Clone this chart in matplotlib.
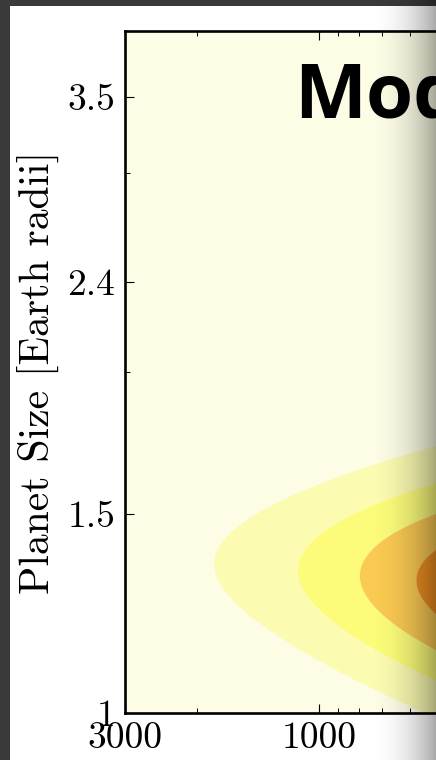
import numpy as np
import matplotlib
matplotlib.use("Agg")
import matplotlib.pyplot as plt
from matplotlib.patches import Rectangle
from matplotlib.ticker import FixedLocator, FixedFormatter, NullFormatter, LogLocator

plt.rcParams['axes.formatter.use_mathtext'] = True

# ---- model parameters (occurrence density in period / size) ----
P_PEAK = 205.0          # period of the density peak
R_PEAK = 1.27           # planet size at the peak [Earth radii]
SIG_LOGP = 0.50         # width in log10(period)
SIG_LNR_PEAK = 0.1925   # width in ln(size) at the peak period
SIG_LNR_SLOPE = 0.409   # fractional narrowing of the size width per dex of period
RIDGE_SLOPE = 0.0675    # d ln(size) / d log10(period) along the ridge

# ---- contour levels (fraction of peak) and band colours ----
levels = [0.0, 1/6, 2/6, 3/6, 4/6, 5/6, 1.0001]
band_colors = ['#fdfde6', '#fbfbb2', '#fcfc7a', '#fbca52', '#f0901f', '#c0640f']

# ---- axes ranges and ticks ----
period_range = (3000, 30)
size_range = (1.0, 4.0)
xticks = [3000, 1000, 300, 100, 30]
xtick_labels = ['3000', '1000', '300', '100', '30']
yticks = [1.0, 1.5, 2.4, 3.5]
ytick_labels = ['1', '1.5', '2.4', '3.5']
yminor = [2.0, 3.0]

title_text = 'Model'
ylabel_text = 'Planet Size [Earth radii]'

W, H = 436, 760
fig = plt.figure(figsize=(W / 100, H / 100), dpi=100, facecolor='#3a3a3a')

# white page inside the dark frame
fig.add_artist(Rectangle((10 / W, 0), 1, 1 - 6 / H, transform=fig.transFigure,
                         facecolor='white', edgecolor='none', zorder=-10))

px_per_dex = 407.3
ax_w = px_per_dex * np.log10(period_range[0] / period_range[1]) / W
ax = fig.add_axes([125 / W, 47 / H, ax_w, 682 / H])

# density on a log grid
logP = np.linspace(np.log10(period_range[1]), np.log10(period_range[0]), 700)
lnR = np.linspace(np.log(size_range[0]), np.log(size_range[1]), 700)
LP, LR = np.meshgrid(logP, lnR)
dlp = LP - np.log10(P_PEAK)
ridge = np.log(R_PEAK) + RIDGE_SLOPE * dlp
sig_r = SIG_LNR_PEAK * np.clip(1 - SIG_LNR_SLOPE * dlp, 0.05, None)
dens = np.exp(-dlp**2 / (2 * SIG_LOGP**2) - (LR - ridge)**2 / (2 * sig_r**2))

ax.contourf(10**LP, np.exp(LR), dens, levels=levels, colors=band_colors,
            antialiased=True)

ax.set_xscale('log')
ax.set_yscale('log')
ax.set_xlim(*period_range)
ax.set_ylim(*size_range)

ax.xaxis.set_major_locator(FixedLocator(xticks))
ax.xaxis.set_major_formatter(FixedFormatter(xtick_labels))
ax.xaxis.set_minor_locator(LogLocator(base=10, subs=np.arange(2, 10)))
ax.xaxis.set_minor_formatter(NullFormatter())
ax.yaxis.set_major_locator(FixedLocator(yticks))
ax.yaxis.set_major_formatter(FixedFormatter(ytick_labels))
ax.yaxis.set_minor_locator(FixedLocator(yminor))
ax.yaxis.set_minor_formatter(NullFormatter())
for lab in ax.get_xticklabels() + ax.get_yticklabels():
    lab.set_fontfamily('cmr10')
    lab.set_fontsize(27)

ax.tick_params(which='both', direction='in', top=True, right=True, color='black')
ax.tick_params(which='major', length=6.5, width=0.8)
ax.tick_params(which='minor', length=3.5, width=0.7)
ax.tick_params(axis='x', which='major', pad=6)
ax.tick_params(axis='y', which='major', pad=7)
for sp in ax.spines.values():
    sp.set_linewidth(1.9)

ax.set_ylabel(ylabel_text, fontfamily='cmr10', fontsize=30, labelpad=6)

fig.text(294 / W, 1 - 118 / H, title_text, fontfamily='Open Sans',
         fontweight='bold', fontsize=55, ha='left', va='baseline')

# soft shadow darkening the right edge of the page
cols = np.arange(W)
t = np.clip((cols - 362) / (W - 362), 0, 1)
alpha = 0.36 * t**2.4
shade = np.zeros((H, W, 4))
shade[..., 3] = alpha[None, :]
sax = fig.add_axes([0, 0, 1, 1], zorder=20)
sax.imshow(shade, extent=(0, 1, 0, 1), aspect='auto', interpolation='bilinear')
sax.set_axis_off()

fig.savefig('out.png', dpi=100, facecolor=fig.get_facecolor())
